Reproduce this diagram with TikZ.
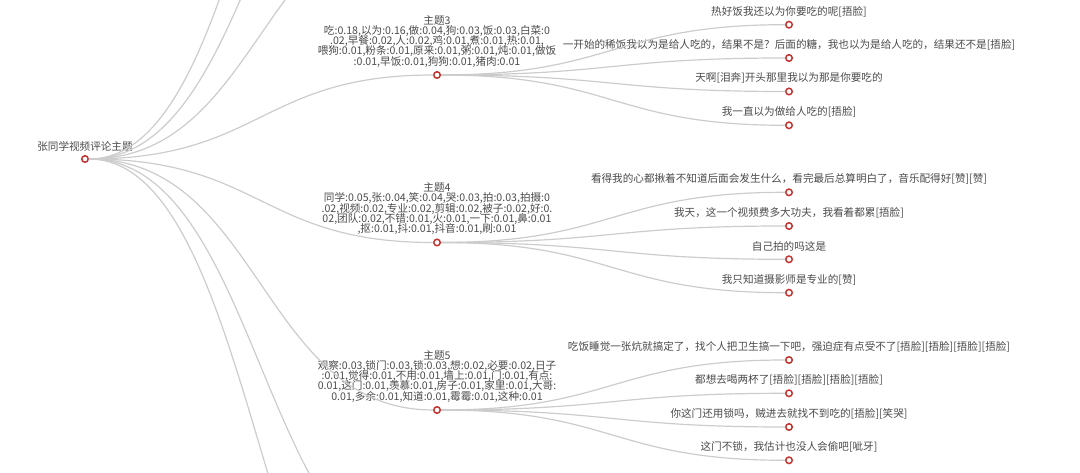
\documentclass[tikz,border=0pt]{standalone}
\usepackage{fontspec}
\newfontfamily\cjk{Noto Sans CJK SC}
\usetikzlibrary{positioning}
\definecolor{kantgrau}{HTML}{CCCCCC}
\definecolor{punktrot}{HTML}{C23531}
\definecolor{schrift}{HTML}{4A4A4A}
\newcommand\kommfont{\cjk\fontsize{10.6pt}{10.3pt}\selectfont\lineskiplimit=-10pt\relax}
\begin{document}
\begin{tikzpicture}[x=1pt,y=-1pt,
      kante/.style={draw=kantgrau, line width=1.2pt},
      kreis/.style={circle, draw=punktrot, fill=white, line width=1.5pt,
        minimum size=6.5pt, inner sep=0pt},
      beschr/.style={font=\kommfont, text=schrift, align=center, inner sep=0pt}
    ]
    \useasboundingbox (0,0) rectangle (1080,473);
    \clip (0,0) rectangle (1080,473);
    % Wurzel und Themen
    \path (85,159)  node(root) [kreis] {}
    (437,75)  node(t3) [kreis] {}
    (437,242.5) node(t4) [kreis] {}
    (437,410) node(t5) [kreis] {};
    \coordinate (t0) at (437,-427.5);
    \coordinate (t1) at (437,-260);
    \coordinate (t2) at (437,-92.5);
    \coordinate (t6) at (437,577.5);
    \coordinate (t7) at (437,745);
    % Kommentare
    \path (789,24.7)  node(b31) [kreis] {}
    (789,58)    node(b32) [kreis] {}
    (789,91.5)  node(b33) [kreis] {}
    (789,125.3) node(b34) [kreis] {}
    (789,192.3) node(b41) [kreis] {}
    (789,226)   node(b42) [kreis] {}
    (789,259.3) node(b43) [kreis] {}
    (789,292.7) node(b44) [kreis] {}
    (789,360)   node(b51) [kreis] {}
    (789,393.3) node(b52) [kreis] {}
    (789,427)   node(b53) [kreis] {}
    (789,460.3) node(b54) [kreis] {};
    % Beschriftungen
    \node[beschr, above=3.5pt of root] (rootl) {张同学视频评论主题};
    \node[beschr, above=3.5pt of t3] (t3l) {主题3\\吃:0.18,以为:0.16,做:0.04,狗:0.03,饭:0.03,白菜:0\\.02,早餐:0.02,人:0.02,鸡:0.01,煮:0.01,热:0.01,\\喂狗:0.01,粉条:0.01,原来:0.01,粥:0.01,炖:0.01,做饭\\:0.01,早饭:0.01,狗狗:0.01,猪肉:0.01};
    \node[beschr, above=3.5pt of t4] (t4l) {主题4\\同学:0.05,张:0.04,笑:0.04,哭:0.03,拍:0.03,拍摄:0\\.02,视频:0.02,专业:0.02,剪辑:0.02,被子:0.02,好:0.\\02,团队:0.02,不错:0.01,火:0.01,一下:0.01,鼻:0.01\\,抠:0.01,抖:0.01,抖音:0.01,刷:0.01};
    \node[beschr, above=3.5pt of t5] (t5l) {主题5\\观察:0.03,锁门:0.03,锁:0.03,想:0.02,必要:0.02,日子\\:0.01,觉得:0.01,不用:0.01,墙上:0.01,门:0.01,有点:\\0.01,这门:0.01,羡慕:0.01,房子:0.01,家里:0.01,大哥:\\0.01,多余:0.01,知道:0.01,霉霉:0.01,这种:0.01};
    \node[beschr, above=3.5pt of b31] (b31l) {热好饭我还以为你要吃的呢[捂脸]};
    \node[beschr, above=3.5pt of b32] (b32l) {一开始的稀饭我以为是给人吃的，结果不是？后面的糖，我也以为是给人吃的，结果还不是[捂脸]};
    \node[beschr, above=3.5pt of b33] (b33l) {天啊[泪奔]开头那里我以为那是你要吃的};
    \node[beschr, above=3.5pt of b34] (b34l) {我一直以为做给人吃的[捂脸]};
    \node[beschr, above=3.5pt of b41] (b41l) {看得我的心都揪着不知道后面会发生什么，看完最后总算明白了，音乐配得好[赞][赞]};
    \node[beschr, above=3.5pt of b42] (b42l) {我天，这一个视频费多大功夫，我看着都累[捂脸]};
    \node[beschr, above=3.5pt of b43] (b43l) {自己拍的吗这是};
    \node[beschr, above=3.5pt of b44] (b44l) {我只知道摄影师是专业的[赞]};
    \node[beschr, above=3.5pt of b51] (b51l) {吃饭睡觉一张炕就搞定了，找个人把卫生搞一下吧，强迫症有点受不了[捂脸][捂脸][捂脸][捂脸]};
    \node[beschr, above=3.5pt of b52] (b52l) {都想去喝两杯了[捂脸][捂脸][捂脸][捂脸]};
    \node[beschr, above=3.5pt of b53] (b53l) {你这门还用锁吗，贼进去就找不到吃的[捂脸][笑哭]};
    \node[beschr, above=3.5pt of b54] (b54l) {这门不锁，我估计也没人会偷吧[呲牙]};
    % Kanten Wurzel -> Themen
    \draw[kante] (root) .. controls (261,159) and (261,-427.5) .. (t0);
    \draw[kante] (root) .. controls (261,159) and (261,-260) .. (t1);
    \draw[kante] (root) .. controls (261,159) and (261,-92.5) .. (t2);
    \draw[kante] (root) .. controls (261,159) and (261,75) .. (t3);
    \draw[kante] (root) .. controls (261,159) and (261,242.5) .. (t4);
    \draw[kante] (root) .. controls (261,159) and (261,410) .. (t5);
    \draw[kante] (root) .. controls (261,159) and (261,577.5) .. (t6);
    \draw[kante] (root) .. controls (261,159) and (261,745) .. (t7);
    % Kanten Themen -> Kommentare
    \draw[kante] (t3) .. controls (613,75) and (613,24.7) .. (b31);
    \draw[kante] (t3) .. controls (613,75) and (613,58) .. (b32);
    \draw[kante] (t3) .. controls (613,75) and (613,91.5) .. (b33);
    \draw[kante] (t3) .. controls (613,75) and (613,125.3) .. (b34);
    \draw[kante] (t4) .. controls (613,242.5) and (613,192.3) .. (b41);
    \draw[kante] (t4) .. controls (613,242.5) and (613,226) .. (b42);
    \draw[kante] (t4) .. controls (613,242.5) and (613,259.3) .. (b43);
    \draw[kante] (t4) .. controls (613,242.5) and (613,292.7) .. (b44);
    \draw[kante] (t5) .. controls (613,410) and (613,360) .. (b51);
    \draw[kante] (t5) .. controls (613,410) and (613,393.3) .. (b52);
    \draw[kante] (t5) .. controls (613,410) and (613,427) .. (b53);
    \draw[kante] (t5) .. controls (613,410) and (613,460.3) .. (b54);
  \end{tikzpicture}
\end{document}
